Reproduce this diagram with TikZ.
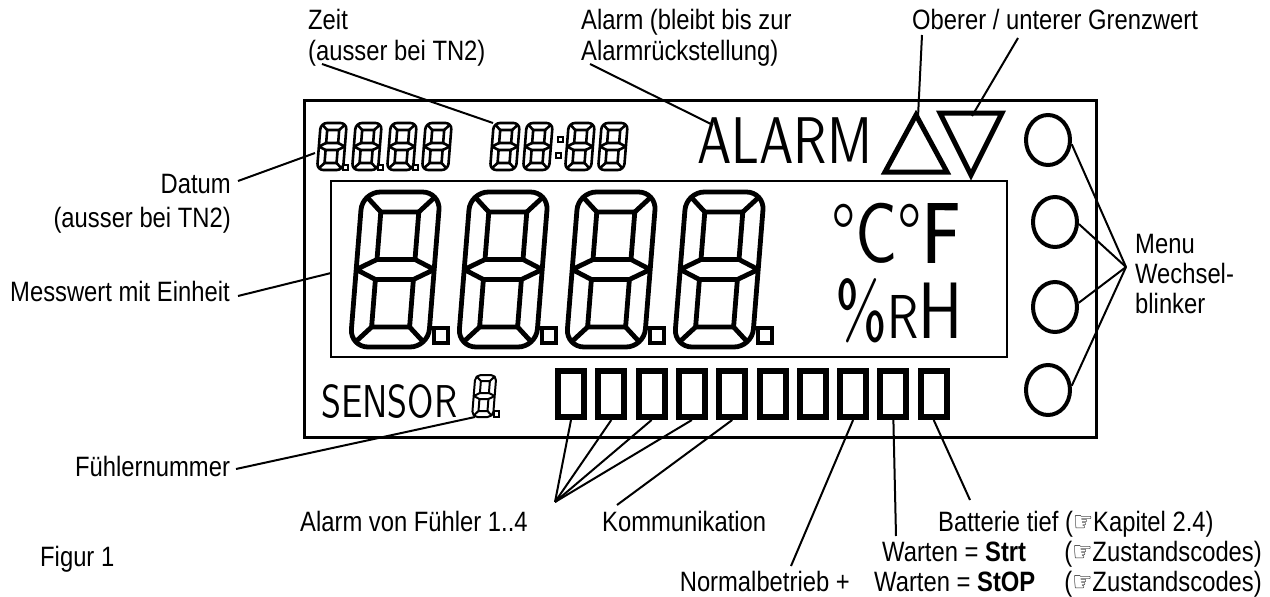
\documentclass[tikz,border=0pt]{standalone}
\usepackage{fontspec}
\setmainfont{Liberation Sans}[FakeStretch=0.85]
\newfontfamily\lcd{lmsans10-regular.otf}[FakeStretch=0.78]
\newfontfamily\lcdm{lmsans10-regular.otf}[FakeStretch=0.78,FakeBold=2]
\newfontfamily\handfont{DejaVu Sans}
\newcommand\hnd{\scalebox{0.8}[1]{\handfont\char"261E}}
\usetikzlibrary{shapes.geometric}
\newcommand\segdig[6]{%
\begin{scope}[shift={(#1,#2)},y=1pt,xslant=0.08,line width=#6,line join=round]
\pgfmathsetmacro\dW{#3}\pgfmathsetmacro\dH{#4}\pgfmathsetmacro\dt{#5}
\pgfmathsetmacro\dm{\dH/2}\pgfmathsetmacro\dr{\dt*0.9}\pgfmathsetmacro\dc{\dr*0.3}
\draw[rounded corners=\dr pt] (0,0) rectangle (\dW,\dH);
\draw (\dt,\dt) rectangle (\dW-\dt,\dm-\dt/2);
\draw (\dt,\dm+\dt/2) rectangle (\dW-\dt,\dH-\dt);
\draw (0,\dm) -- (\dt,\dm+\dt/2) (0,\dm) -- (\dt,\dm-\dt/2)
      (\dW,\dm) -- (\dW-\dt,\dm+\dt/2) (\dW,\dm) -- (\dW-\dt,\dm-\dt/2);
\draw (\dc,\dc) -- (\dt,\dt) (\dW-\dc,\dc) -- (\dW-\dt,\dt)
      (\dc,\dH-\dc) -- (\dt,\dH-\dt) (\dW-\dc,\dH-\dc) -- (\dW-\dt,\dH-\dt);
\end{scope}}
\tikzset{
 lbl/.style={inner sep=0, font=\fontsize{28}{32}\selectfont},
 conn/.style={line width=2},
 barbox/.style={draw, line width=6, minimum width=26, minimum height=46, inner sep=0},
 ring/.style={draw, ellipse, line width=4, minimum width=44, minimum height=50, inner sep=0},
 dp/.style={line width=3.5}
}
\begin{document}
\begin{tikzpicture}[x=1pt,y=-1pt]
\useasboundingbox (0,0) rectangle (1270,597);
% LCD frame
\draw[line width=3] (304,100) rectangle (1096,437);
\draw[line width=2.5] (331,181) rectangle (1007,357);
% big digits
\foreach \k in {0,1,2,3}{
  \segdig{350+108*\k}{347}{78}{155}{20}{4.8}
  \draw[dp] (434+108*\k,328) rectangle (448+108*\k,343);
}
% date digits
\foreach \xx in {317,352,387,422}{\segdig{\xx}{170}{26}{47}{7}{2.6}}
\foreach \xx in {343,378,413}{\draw[line width=2] (\xx,165) rectangle (\xx+5,170);}
% time digits
\foreach \xx in {490,523,565,598}{\segdig{\xx}{170}{26}{47}{7}{2.6}}
\draw[line width=2] (558,137) rectangle (563,142) (556,153) rectangle (561,158);
% sensor digit
\segdig{472}{417}{21}{42}{6}{2}
\draw[line width=2] (494,411) rectangle (499,417);
% LCD texts
\node[anchor=base west, inner sep=0, font=\fontsize{66}{66}\lcd] (alarmtxt) at (697,163) {ALARM};
\node[anchor=base west, inner sep=0, font=\fontsize{46}{46}\lcd] (sensortxt) at (321,417) {SENSOR};
\node[anchor=base west, inner sep=0, font=\fontsize{84}{84}\lcd] (degC) at (831,262) {°C°{\lcdm F}};
\node[anchor=base west, inner sep=0, font=\fontsize{80}{80}\lcd] (rh) at (835,338) {\%{\fontsize{62}{62}\selectfont R}H};
% triangles
\draw[line width=5, line join=miter] (885,172) -- (947,172) -- (916,115) -- cycle;
\draw[line width=5, line join=miter] (940,113) -- (1002,113) -- (971,175) -- cycle;
\coordinate (upapex) at (918,117);
\coordinate (downtop) at (972,116);
% bars
\foreach \i in {1,...,10}{\node[barbox] (b\i) at ({571+40.3*(\i-1)},394) {};}
% rings
\node[ring] (c1) at (1048,140) {};
\node[ring] (c2) at (1055,222) {};
\node[ring] (c3) at (1055,307) {};
\node[ring] (c4) at (1048,390) {};
% labels
\node[lbl, anchor=base west] (zeit) at (308,30) {Zeit};
\node[lbl, anchor=base west] (zeit2) at (308,60) {(ausser bei TN2)};
\node[lbl, anchor=base west] (alarm1) at (581,30) {Alarm (bleibt bis zur};
\node[lbl, anchor=base west] (alarm2) at (581,60) {Alarmrückstellung)};
\node[lbl, anchor=base west] (grenz) at (912,30) {Oberer / unterer Grenzwert};
\node[lbl, anchor=base east] (datum) at (231,193) {Datum};
\node[lbl, anchor=base east] (datum2) at (231,227) {(ausser bei TN2)};
\node[lbl, anchor=base west] (mess) at (10,301) {Messwert mit Einheit};
\node[lbl, anchor=base west] (menu1) at (1135,253) {Menu};
\node[lbl, anchor=base west] (menu2) at (1135,283) {Wechsel-};
\node[lbl, anchor=base west] (menu3) at (1135,313) {blinker};
\node[lbl, anchor=base west] (fuehler) at (75,476) {Fühlernummer};
\node[lbl, anchor=base west] (alarmvon) at (300,531) {Alarm von Fühler 1..4};
\node[lbl, anchor=base west] (komm) at (602,531) {Kommunikation};
\node[lbl, anchor=base west] (figur) at (40,566) {Figur 1};
\node[lbl, anchor=base west] (batt) at (938,531) {Batterie tief (\hnd Kapitel 2.4)};
\node[lbl, anchor=base west] (strt) at (882,561) {Warten = \textbf{Strt}};
\node[lbl, anchor=base east] (zc1) at (1262,561) {(\hnd Zustandscodes)};
\node[lbl, anchor=base east] (normal) at (850,591) {Normalbetrieb +};
\node[lbl, anchor=base west] (stop) at (874,591) {Warten = \textbf{StOP}};
\node[lbl, anchor=base east] (zc2) at (1262,591) {(\hnd Zustandscodes)};
% connector end points
\coordinate (zeitA) at (322,64);   \coordinate (timeB) at (493,123);
\coordinate (alA) at (590,64);     \coordinate (alB) at (713,125);
\coordinate (grA) at (922,35);     \coordinate (grB) at (1018,38);
\coordinate (datA) at (238,181);   \coordinate (datB) at (315,153);
\coordinate (mesA) at (238,296);   \coordinate (mesB) at (331,273);
\coordinate (fuA) at (236,469);    \coordinate (fuB) at (475,417);
\coordinate (avA) at (555,502);
\coordinate (koA) at (617,505);
\coordinate (noA) at (791,566);
\coordinate (stA) at (896,536);
\coordinate (baA) at (970,500);
\coordinate (menuP) at (1126,267);
% connectors
\draw[conn] (zeitA) -- (timeB);
\draw[conn] (alA) -- (alB);
\draw[conn] (grA) -- (upapex);
\draw[conn] (grB) -- (downtop);
\draw[conn] (datA) -- (datB);
\draw[conn] (mesA) -- (mesB);
\draw[conn] (fuA) -- (fuB);
\foreach \i in {1,2,3,4}{\draw[conn] (avA) -- (b\i.south);}
\draw[conn] (koA) -- (b5.south);
\draw[conn] (noA) -- (b8.south);
\draw[conn] (stA) -- (b9.south);
\draw[conn] (baA) -- (b10.south);
\draw[conn] (menuP) -- (c1.-10);
\draw[conn] (menuP) -- (c2.-5);
\draw[conn] (menuP) -- (c3.10);
\draw[conn] (menuP) -- (c4.10);
\end{tikzpicture}
\end{document}
